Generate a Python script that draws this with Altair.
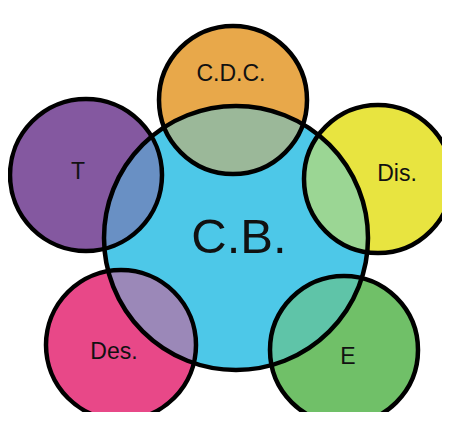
import altair as alt
import pandas as pd

# circle definitions (image-pixel coordinates)
names = ["C.B.", "C.D.C.", "Dis.", "E", "Des.", "T"]
cx = [236, 233, 378, 344, 121, 86]
cy = [238, 100, 179, 350, 345, 175]
radius = [132, 74, 74, 74, 75, 76]
colors = ["#4dc8e8", "#e8a84a", "#e8e440", "#70c068", "#e84888", "#8458a0"]

# label positions
label_text = ["C.B.", "C.D.C.", "Dis.", "E", "Des.", "T"]
label_x = [239, 231, 397, 348, 114, 78]
label_y = [238, 74, 174, 357, 352, 172]
label_size = [49, 23, 23, 23, 23, 23]

W, H = 434, 404

circles = pd.DataFrame({
    "name": names, "x": cx, "y": cy,
    "size": [(2 * r) ** 2 for r in radius],
    "color": colors,
})
labels = pd.DataFrame({"t": label_text, "x": label_x, "y": label_y, "fs": label_size})

xs = alt.Scale(domain=[8, 8 + W])
ys = alt.Scale(domain=[8, 8 + H], reverse=True)

def base(df):
    return alt.Chart(df).encode(
        x=alt.X("x:Q", scale=xs, axis=None),
        y=alt.Y("y:Q", scale=ys, axis=None),
    )

center = circles[circles["name"] == "C.B."]
outer = circles[circles["name"] != "C.B."]

l1 = base(center).mark_point(shape="circle", filled=True, opacity=1, strokeWidth=0).encode(
    size=alt.Size("size:Q", scale=None, legend=None),
    color=alt.Color("color:N", scale=None),
)
l2 = base(outer).mark_point(shape="circle", filled=True, opacity=1, strokeWidth=0).encode(
    size=alt.Size("size:Q", scale=None, legend=None),
    color=alt.Color("color:N", scale=None),
)
l3 = base(center).mark_point(shape="circle", filled=True, opacity=0.5, strokeWidth=0).encode(
    size=alt.Size("size:Q", scale=None, legend=None),
    color=alt.Color("color:N", scale=None),
)
l4 = base(circles).mark_point(shape="circle", filled=False, opacity=1, strokeWidth=4.5,
                              color="#000000").encode(
    size=alt.Size("size:Q", scale=None, legend=None),
)
l5 = base(labels).mark_text(font="Liberation Sans Narrow, Liberation Sans", color="#111111",
                            baseline="middle", align="center").encode(
    text="t:N",
    size=alt.Size("fs:Q", scale=None, legend=None),
)

chart = alt.layer(l1, l2, l3, l4, l5).properties(
    width=W, height=H,
    autosize=alt.AutoSizeParams(type="none"),
    padding=0,
).configure_view(stroke=None)

chart.save("out.html", embed_options={"renderer": "svg", "actions": False})
